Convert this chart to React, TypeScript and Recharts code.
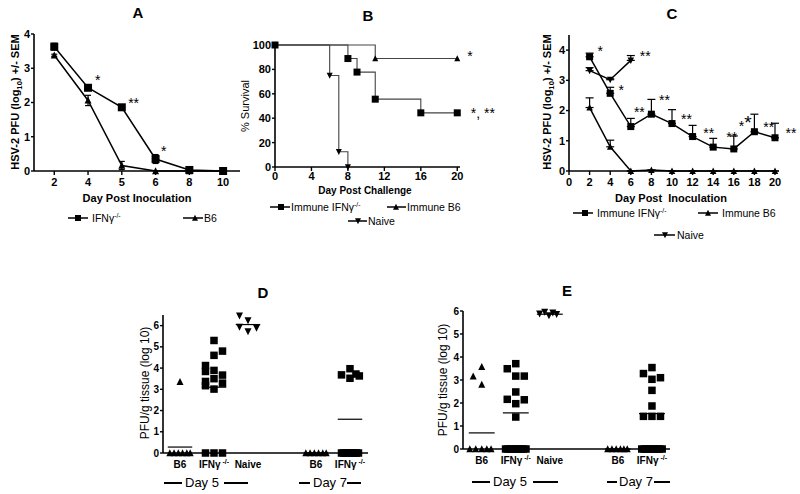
import React from 'react';
import {
  LineChart,
  Line,
  XAxis,
  YAxis,
  ErrorBar,
  ReferenceDot,
  ReferenceLine,
  ScatterChart,
  Scatter,
} from 'recharts';

const FONT = '"Liberation Sans", Arial, Helvetica, sans-serif';

// A: primary infection titres
const aDays = ['2', '4', '5', '6', '8', '10'];
const aIfn = [3.63, 2.43, 1.86, 0.35, 0.03, 0];
const aIfnSem = [0.1, 0.07, 0.05, 0.13, 0.03, 0];
const aB6 = [3.38, 2.06, 0.16, 0, 0, 0];
const aB6Sem = [0.03, 0.15, 0.12, 0, 0, 0];
const aStars: [number, number, string][] = [
  [1.29, 2.74, '*'],
  [2.35, 2.07, '**'],
  [3.24, 0.67, '*'],
];

// B: survival after challenge
const bIfnDays = [0, 8, 9, 11, 16, 20];
const bIfn = [100, 88.9, 77.8, 55.6, 44.4, 44.4];
const bB6Days = [0, 11, 20];
const bB6 = [100, 88.9, 88.9];
const bNaiveDays = [0, 6, 7, 8];
const bNaive = [100, 75, 12.5, 0];
const bStars: [number, number, string][] = [
  [21.4, 93.4, '*'],
  [22.8, 46.7, '*, **'],
];

// C: titres after challenge
const cDays = [2, 4, 6, 8, 10, 12, 14, 16, 18, 20];
const cIfn = [3.78, 2.57, 1.47, 1.88, 1.57, 1.14, 0.79, 0.73, 1.3, 1.1];
const cIfnSem = [0.12, 0.2, 0.27, 0.49, 0.46, 0.37, 0.29, 0.43, 0.58, 0.48];
const cB6 = [2.1, 0.8, 0, 0.03, 0, 0, 0, 0, 0, 0];
const cB6Sem = [0.32, 0.22, 0, 0, 0, 0, 0, 0, 0, 0];
const cNaiveDays = [2, 4, 6];
const cNaive = [3.32, 3.02, 3.66];
const cNaiveSem = [0.1, 0.03, 0.16];
// [day, value, text, extra big star]
const cStars: [number, number, string, string][] = [
  [3.02, 4.07, '*', ''],
  [7.4, 3.9, '**', ''],
  [5.07, 2.78, '*', ''],
  [9.27, 2.45, '**', ''],
  [6.83, 2.05, '**', ''],
  [11.4, 1.82, '**', ''],
  [13.56, 1.36, '**', ''],
  [15.8, 1.22, '**', ''],
  [17.1, 1.6, '*', '*'],
  [19.4, 1.55, '**', ''],
  [21.56, 1.36, '**', ''],
];

// D / E: tissue titres, columns
const dePos = [1, 2, 3, 5, 6];
const deTickText = ['B6', 'IFNγ', 'Naive', 'B6', 'IFNγ'];
const deTickSup = ['', '-/-', '', '', '-/-'];

const dB6d5 = [3.35, 0, 0, 0, 0, 0, 0];
const dB6d5Slot = [0, -1.2, -0.7, -0.2, 0.3, 0.8, 1.2];
const dIfnd5 = [4.12, 3.84, 3.37, 3.17, 5.3, 4.6, 3.89, 3.5, 3.01, 4.8, 3.67, 3.29, 0, 0, 0];
const dIfnd5Slot = [-1, -1, -1, -1, 0, 0, 0, 0, 0, 1, 1, 1, -1, 0, 1];
const dNaive = [6.47, 5.94, 6.25, 5.73, 5.89];
const dNaiveSlot = [-1, -1, 0, 0, 1];
const dB6d7 = [0, 0, 0, 0, 0, 0];
const dB6d7Slot = [-1.2, -0.7, -0.2, 0.3, 0.8, 1.2];
const dIfnd7 = [3.68, 3.97, 3.52, 3.72, 3.63, 0, 0, 0, 0, 0, 0, 0, 0, 0];
const dIfnd7Slot = [-1, 0, 0, 0.7, 1.1, -1, -0.75, -0.5, -0.25, 0, 0.25, 0.5, 0.75, 1];
const dMeans = [0.28, 3.1, 6.05, 0, 1.59];

const eB6d5 = [3.16, 3.57, 2.8, 0, 0, 0, 0, 0];
const eB6d5Slot = [-1, 0, 0, -1.4, -0.7, 0, 0.6, 1.1];
const eIfnd5 = [3.49, 2.16, 3.71, 3.17, 2.48, 1.97, 1.39, 3.17, 2.14, 0, 0, 0, 0, 0, 0, 0, 0, 0];
const eIfnd5Slot = [-1, -1, 0, 0, 0, 0, 0, 1, 1, -1.2, -0.9, -0.6, -0.3, 0, 0.3, 0.6, 0.9, 1.2];
const eNaive = [5.88, 5.96, 5.81, 5.93, 5.86];
const eNaiveSlot = [-1.2, -0.6, -0.1, 0.35, 0.8];
const eB6d7 = [0, 0, 0, 0, 0, 0];
const eB6d7Slot = [-1.2, -0.7, -0.2, 0.3, 0.7, 1.1];
const eIfnd7 = [3.28, 1.42, 3.54, 3.03, 2.55, 1.87, 1.42, 3.1, 1.42, 0, 0, 0, 0, 0, 0, 0, 0, 0];
const eIfnd7Slot = [-1, -1, 0, 0, 0, 0, 0, 1, 1, -1.2, -0.9, -0.6, -0.3, 0, 0.3, 0.6, 0.9, 1.2];
const eMeans = [0.7, 1.57, 5.86, 0, 1.54];

// ---- shapes
const Sq = ({ cx, cy, s = 7 }: any) => (
  <rect x={cx - s / 2} y={cy - s / 2} width={s} height={s} fill="#000" />
);
const TriUp = ({ cx, cy, s = 7 }: any) => (
  <polygon
    points={`${cx},${cy - s * 0.55} ${cx - s / 2},${cy + s * 0.45} ${cx + s / 2},${cy + s * 0.45}`}
    fill="#000"
  />
);
const TriDown = ({ cx, cy, s = 7 }: any) => (
  <polygon
    points={`${cx},${cy + s * 0.55} ${cx - s / 2},${cy - s * 0.45} ${cx + s / 2},${cy - s * 0.45}`}
    fill="#000"
  />
);
const MARKERS: any = { sq: Sq, up: TriUp, down: TriDown };

const dotOf = (kind: string, s: number) => (p: any) => {
  const M = MARKERS[kind];
  return <M key={`dot-${kind}-${p.index}`} cx={p.cx} cy={p.cy} s={s} />;
};

const starShape = (t: string, big = '', fs = 14) => (p: any) => (
  <text x={p.cx} y={p.cy + fs * 0.57} textAnchor="middle" fontSize={fs} fontFamily={FONT} fill="#000">
    {t}
    {big ? (
      <tspan fontSize={19} dy={-2}>
        {big}
      </tspan>
    ) : null}
  </text>
);

// ---- layout helpers
const YW = 40;
const PT = 20;
const PR = 40;
const XH = 24;
const PB = 6;

function place(l: number, t: number, r: number, b: number) {
  return {
    box: { position: 'absolute' as const, left: l - YW, top: t - PT },
    width: r - l + YW + PR,
    height: b - t + PT + XH + PB,
    margin: { top: PT, right: PR, bottom: PB, left: 0 },
  };
}

const axisLine = { stroke: '#000', strokeWidth: 1.6 };
const tickLine = { stroke: '#000', strokeWidth: 1.4 };
const tickStyle = { fill: '#000', fontSize: 11, fontWeight: 700, fontFamily: FONT };
const tickSmall = { fill: '#000', fontSize: 10, fontWeight: 700, fontFamily: FONT };

const Txt = ({ x, y, size = 11, bold = false, rotate = false, children }: any) => (
  <div
    style={{
      position: 'absolute',
      left: x,
      top: y,
      transform: `translate(-50%, -50%)${rotate ? ' rotate(-90deg)' : ''}`,
      fontSize: size,
      fontWeight: bold ? 700 : 400,
      whiteSpace: 'nowrap',
      lineHeight: 1,
      color: '#000',
    }}
  >
    {children}
  </div>
);

const LegendItem = ({ x, y, w, m, textX, kind, children }: any) => {
  const M = MARKERS[kind];
  return (
    <div style={{ position: 'absolute', left: x, top: y - 7, height: 14, display: 'flex', alignItems: 'center', fontSize: 10.5, whiteSpace: 'nowrap' }}>
      <svg width={w} height={14} style={{ display: 'block' }}>
        <line x1={0} y1={7} x2={w} y2={7} stroke="#000" strokeWidth={1.5} />
        <M cx={m} cy={7} s={6} />
      </svg>
      <span style={{ marginLeft: textX - x - w }}>{children}</span>
    </div>
  );
};

const GroupLabel = ({ l1, l2, r1, r2, tx, y, text }: any) => (
  <>
    <div style={{ position: 'absolute', left: l1, top: y - 1, width: l2 - l1, height: 2, background: '#000' }} />
    <div style={{ position: 'absolute', left: r1, top: y - 1, width: r2 - r1, height: 2, background: '#000' }} />
    <div style={{ position: 'absolute', left: tx, top: y - 7, fontSize: 13, lineHeight: '14px', whiteSpace: 'nowrap' }}>{text}</div>
  </>
);

const IfnSup = () => (
  <>
    IFNγ<sup style={{ fontSize: '0.65em', verticalAlign: 'super', lineHeight: 0 }}>-/-</sup>
  </>
);

// ---- panels
function PanelA() {
  const g = place(34, 34, 240, 171);
  const ifn = aDays.map((_, i) => ({ x: i, y: aIfn[i], e: aIfnSem[i] }));
  const b6 = aDays.map((_, i) => ({ x: i, y: aB6[i], e: aB6Sem[i] }));
  return (
    <div style={g.box}>
      <LineChart width={g.width} height={g.height} margin={g.margin}>
        <XAxis
          type="number"
          dataKey="x"
          domain={[-0.6, 5.5]}
          ticks={[0, 1, 2, 3, 4, 5]}
          tickFormatter={(v: number) => aDays[v]}
          height={XH}
          axisLine={axisLine}
          tickLine={tickLine}
          tickSize={4}
          tickMargin={3}
          tick={tickStyle}
        />
        <YAxis
          type="number"
          domain={[0, 4]}
          ticks={[0, 1, 2, 3, 4]}
          width={YW}
          axisLine={axisLine}
          tickLine={tickLine}
          tickSize={3}
          tickMargin={1}
          tick={tickStyle}
        />
        <Line data={b6} dataKey="y" stroke="#000" strokeWidth={1.5} dot={dotOf('up', 7)} activeDot={false} isAnimationActive={false}>
          <ErrorBar dataKey="e" direction="y" width={3} stroke="#000" strokeWidth={1.2} />
        </Line>
        <Line data={ifn} dataKey="y" stroke="#000" strokeWidth={1.5} dot={dotOf('sq', 8)} activeDot={false} isAnimationActive={false}>
          <ErrorBar dataKey="e" direction="y" width={3} stroke="#000" strokeWidth={1.2} />
        </Line>
        {aStars.map(([x, y, t], i) => (
          <ReferenceDot key={`as${i}`} x={x} y={y} ifOverflow="visible" shape={starShape(t)} />
        ))}
      </LineChart>
    </div>
  );
}

function PanelB() {
  const g = place(275, 45, 460, 167);
  const ifn = bIfnDays.map((d, i) => ({ x: d, y: bIfn[i] }));
  const b6 = bB6Days.map((d, i) => ({ x: d, y: bB6[i] }));
  const naive = bNaiveDays.map((d, i) => ({ x: d, y: bNaive[i] }));
  return (
    <div style={g.box}>
      <LineChart width={g.width} height={g.height} margin={g.margin}>
        <XAxis
          type="number"
          dataKey="x"
          domain={[0, 20.3]}
          ticks={[0, 4, 8, 12, 16, 20]}
          height={XH}
          axisLine={axisLine}
          tickLine={tickLine}
          tickSize={4}
          tickMargin={1}
          tick={tickStyle}
        />
        <YAxis
          type="number"
          domain={[0, 100]}
          ticks={[0, 20, 40, 60, 80, 100]}
          width={YW}
          axisLine={axisLine}
          tickLine={tickLine}
          tickSize={3}
          tickMargin={1}
          tick={tickStyle}
        />
        <Line data={naive} dataKey="y" type="stepAfter" stroke="#444" strokeWidth={1.1} dot={dotOf('down', 6)} activeDot={false} isAnimationActive={false} />
        <Line data={b6} dataKey="y" type="stepAfter" stroke="#444" strokeWidth={1.1} dot={dotOf('up', 6)} activeDot={false} isAnimationActive={false} />
        <Line data={ifn} dataKey="y" type="stepAfter" stroke="#444" strokeWidth={1.1} dot={dotOf('sq', 7)} activeDot={false} isAnimationActive={false} />
        {bStars.map(([x, y, t], i) => (
          <ReferenceDot key={`bs${i}`} x={x} y={y} ifOverflow="visible" shape={starShape(t)} />
        ))}
      </LineChart>
    </div>
  );
}

function PanelC() {
  const g = place(569, 35, 775, 171);
  const ifn = cDays.map((d, i) => ({ x: d, y: cIfn[i], e: [0, cIfnSem[i]] }));
  const b6 = cDays.map((d, i) => ({ x: d, y: cB6[i], e: [0, cB6Sem[i]] }));
  const naive = cNaiveDays.map((d, i) => ({ x: d, y: cNaive[i], e: [0, cNaiveSem[i]] }));
  return (
    <div style={g.box}>
      <LineChart width={g.width} height={g.height} margin={g.margin}>
        <XAxis
          type="number"
          dataKey="x"
          domain={[0, 20]}
          ticks={[0, 2, 4, 6, 8, 10, 12, 14, 16, 18, 20]}
          height={XH}
          axisLine={axisLine}
          tickLine={tickLine}
          tickSize={4}
          tickMargin={3}
          tick={tickStyle}
        />
        <YAxis
          type="number"
          domain={[0, 4.5]}
          ticks={[0, 1, 2, 3, 4]}
          width={YW}
          axisLine={axisLine}
          tickLine={tickLine}
          tickSize={3}
          tickMargin={1}
          tick={tickStyle}
        />
        <Line data={b6} dataKey="y" stroke="#000" strokeWidth={1.5} dot={dotOf('up', 6.5)} activeDot={false} isAnimationActive={false}>
          <ErrorBar dataKey="e" direction="y" width={4} stroke="#000" strokeWidth={1.2} />
        </Line>
        <Line data={naive} dataKey="y" stroke="#000" strokeWidth={1.5} dot={dotOf('down', 6.5)} activeDot={false} isAnimationActive={false}>
          <ErrorBar dataKey="e" direction="y" width={4} stroke="#000" strokeWidth={1.2} />
        </Line>
        <Line data={ifn} dataKey="y" stroke="#000" strokeWidth={1.5} dot={dotOf('sq', 7)} activeDot={false} isAnimationActive={false}>
          <ErrorBar dataKey="e" direction="y" width={4} stroke="#000" strokeWidth={1.2} />
        </Line>
        {cStars.map(([x, y, t, big], i) => (
          <ReferenceDot key={`cs${i}`} x={x} y={y} ifOverflow="visible" shape={starShape(t, big)} />
        ))}
      </LineChart>
    </div>
  );
}

const pts = (pos: number, vals: number[], slots: number[]) =>
  vals.map((v, i) => ({ x: pos + slots[i] * 0.25, y: v }));

const catTick = (p: any) => {
  const i = dePos.indexOf(p.payload.value);
  return (
    <text x={p.x} y={p.y + 9} textAnchor="middle" fontSize={10} fontWeight={700} fontFamily={FONT} fill="#000">
      {deTickText[i]}
      {deTickSup[i] ? (
        <tspan dy={-4} fontSize={7}>
          {' ' + deTickSup[i]}
        </tspan>
      ) : null}
    </text>
  );
};

function Column({ box, xDomain, yMax, groups, means, half }: any) {
  const [l, t, r, b] = box;
  const g = place(l, t, r, b);
  const yTicks = [0, 1, 2, 3, 4, 5, 6];
  return (
    <div style={g.box}>
      <ScatterChart width={g.width} height={g.height} margin={g.margin}>
        <XAxis
          type="number"
          dataKey="x"
          domain={xDomain}
          ticks={dePos}
          height={XH}
          axisLine={axisLine}
          tickLine={false}
          tickSize={4}
          tick={catTick}
        />
        <YAxis
          type="number"
          dataKey="y"
          domain={[0, yMax]}
          ticks={yTicks}
          width={YW}
          axisLine={axisLine}
          tickLine={tickLine}
          tickSize={3}
          tickMargin={1}
          tick={tickSmall}
        />
        {means.map((m: number, i: number) => (
          <ReferenceLine
            key={`m${i}`}
            segment={[
              { x: dePos[i] - half, y: m },
              { x: dePos[i] + half, y: m },
            ]}
            stroke="#000"
            strokeWidth={1.2}
          />
        ))}
        {groups.map((gr: any, i: number) => {
          const M = MARKERS[gr.kind];
          return (
            <Scatter
              key={`g${i}`}
              data={gr.data}
              shape={(p: any) => <M cx={p.cx} cy={p.cy} s={gr.kind === 'sq' ? 7.5 : 7} />}
              isAnimationActive={false}
            />
          );
        })}
      </ScatterChart>
    </div>
  );
}

export default function App() {
  const dGroups = [
    { kind: 'up', data: pts(1, dB6d5, dB6d5Slot) },
    { kind: 'sq', data: pts(2, dIfnd5, dIfnd5Slot) },
    { kind: 'down', data: pts(3, dNaive, dNaiveSlot) },
    { kind: 'up', data: pts(5, dB6d7, dB6d7Slot) },
    { kind: 'sq', data: pts(6, dIfnd7, dIfnd7Slot) },
  ];
  const eGroups = [
    { kind: 'up', data: pts(1, eB6d5, eB6d5Slot) },
    { kind: 'sq', data: pts(2, eIfnd5, eIfnd5Slot) },
    { kind: 'down', data: pts(3, eNaive, eNaiveSlot) },
    { kind: 'up', data: pts(5, eB6d7, eB6d7Slot) },
    { kind: 'sq', data: pts(6, eIfnd7, eIfnd7Slot) },
  ];

  return (
    <div style={{ position: 'absolute', left: 0, top: 0, width: 800, height: 494, background: '#fff', fontFamily: FONT, overflow: 'hidden' }}>
      <PanelA />
      <PanelB />
      <PanelC />
      <Column box={[163, 315, 368, 453]} xDomain={[0.5, 6.53]} yMax={6.5} groups={dGroups} means={dMeans} half={0.36} />
      <Column box={[463, 311, 670, 449]} xDomain={[0.45, 6.53]} yMax={6} groups={eGroups} means={eMeans} half={0.38} />

      {/* titles */}
      <Txt x={138} y={12} size={15} bold>A</Txt>
      <Txt x={368} y={15} size={15} bold>B</Txt>
      <Txt x={672} y={13} size={15} bold>C</Txt>
      <Txt x={263} y={292} size={15} bold>D</Txt>
      <Txt x={567} y={290} size={15} bold>E</Txt>

      {/* axis titles */}
      <Txt x={15} y={102} size={11} bold rotate>
        HSV-2 PFU (log<sub style={{ fontSize: '0.7em', lineHeight: 0 }}>10</sub>) +/- SEM
      </Txt>
      <Txt x={137} y={198} size={11} bold>Day Post Inoculation</Txt>
      <Txt x={245} y={106} size={11} rotate>% Survival</Txt>
      <Txt x={365} y={191} size={10} bold>Day Post Challenge</Txt>
      <Txt x={547} y={102} size={11} bold rotate>
        HSV-2 PFU (log<sub style={{ fontSize: '0.7em', lineHeight: 0 }}>10</sub>) +/- SEM
      </Txt>
      <Txt x={671} y={198} size={11} bold>Day Post&nbsp; Inoculation</Txt>
      <Txt x={145} y={383} size={12} rotate>PFU/g tissue (log 10)</Txt>
      <Txt x={443} y={380} size={12} rotate>PFU/g tissue (log 10)</Txt>

      {/* legends */}
      <LegendItem x={68} y={218} w={20} m={10} textX={92} kind="sq"><IfnSup /></LegendItem>
      <LegendItem x={183} y={218} w={20} m={12} textX={204} kind="up">B6</LegendItem>

      <LegendItem x={270} y={207} w={20} m={11} textX={291} kind="sq">Immune <IfnSup /></LegendItem>
      <LegendItem x={387} y={207} w={19} m={9} textX={407} kind="up">Immune B6</LegendItem>
      <LegendItem x={348} y={221} w={19} m={10} textX={368} kind="down">Naive</LegendItem>

      <LegendItem x={573} y={213} w={20} m={12} textX={597} kind="sq">Immune <IfnSup /></LegendItem>
      <LegendItem x={698} y={213} w={20} m={10} textX={722} kind="up">Immune B6</LegendItem>
      <LegendItem x={654} y={235} w={21} m={11} textX={677} kind="down">Naive</LegendItem>

      {/* day groups */}
      <GroupLabel l1={164} l2={182} r1={224} r2={248} tx={185} y={483} text="Day 5" />
      <GroupLabel l1={299} l2={310} r1={347} r2={361} tx={313} y={483} text="Day 7" />
      <GroupLabel l1={472} l2={490} r1={533} r2={558} tx={493} y={482} text="Day 5" />
      <GroupLabel l1={607} l2={617} r1={654} r2={670} tx={619} y={482} text="Day 7" />
    </div>
  );
}
